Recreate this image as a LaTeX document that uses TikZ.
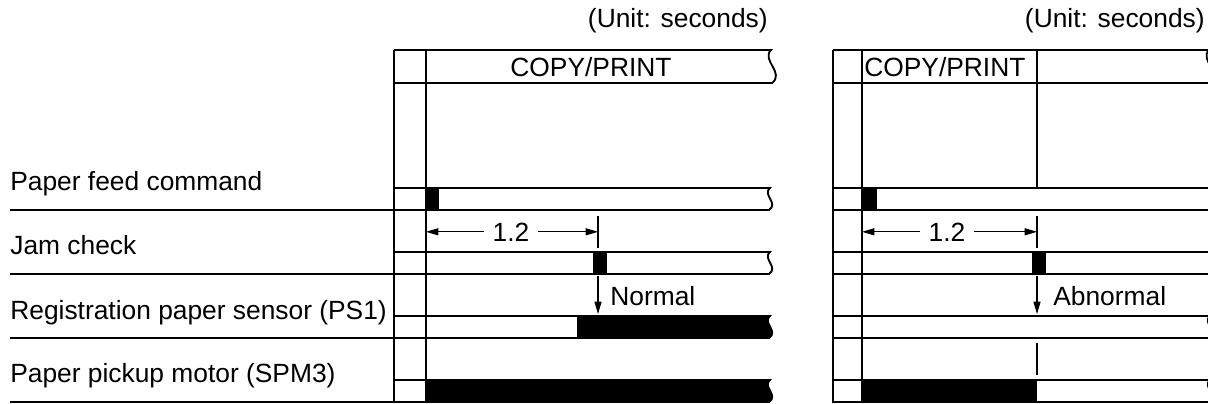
\documentclass[tikz,border=0pt]{standalone}
\usepackage{fontspec}
\setmainfont{Liberation Sans}
\usetikzlibrary{arrows.meta}
\begin{document}
\begin{tikzpicture}[x=0.02cm,y=-0.02cm,
  frame/.style={line width=1.05pt},
  thinln/.style={line width=0.7pt},
  lbl/.style={font=\fontsize{15}{18}\selectfont, inner sep=0pt, anchor=base west},
  txt/.style={font=\fontsize{15}{18}\selectfont, inner sep=0pt, anchor=base},
  dimlbl/.style={font=\fontsize{15}{18}\selectfont, inner xsep=5pt, inner ysep=0pt, anchor=base},
  dim/.style={line width=0.6pt, -{Triangle[length=7pt,width=4pt]}},
  wv/.style={insert path={.. controls +(-8,{0.3*#1}) and +(10,{-0.3*#1}) .. ++(-1,#1)}},
  wvh/.style={insert path={.. controls +(-10,{0.3*#1}) and +(13,{-0.3*#1}) .. ++(1,#1)}},
]
\useasboundingbox (0,0) rectangle (1208,403);
\clip (0,0) rectangle (1208,403);

% ---------- labels ----------
\node[lbl] (pf) at (10,190) {Paper feed command};
\node[lbl] (jc) at (10,254) {Jam check};
\node[lbl] (rs) at (10,319) {Registration paper sensor (PS1)};
\node[lbl] (pm) at (10,382) {Paper pickup motor (SPM3)};

% ---------- left panel ----------
\node[txt, anchor=base east] (u1) at (768,27) {(Unit: seconds)};
\node[txt] (cp1) at (591,76) {COPY/PRINT};

\fill (426,188) rectangle (439,210);
\fill (593,252) rectangle (607,274);
\fill (577,316) -- (770,316) [wv=22] -- (577,338) -- cycle;
\fill (426,380) -- (770,380) [wv=22] -- (426,402) -- cycle;

\draw[frame] (394,50) -- (771,50) [wvh=33] -- (394,83);
\foreach \t in {188,252,316,380}
  \draw[frame] (394,\t) -- (770,\t) [wv=22] -- (10,{\t+22});
\draw[frame] (394,50) -- (394,403);
\draw[thinln] (426,50) -- (426,403);

\coordinate (la) at (426,232);
\coordinate (lb) at (598,232);
\draw[thinln] (598,216) -- (598,248);
\node[dimlbl] (d1) at (511,241) {1.2};
\draw[dim] (d1.west) -- (d1.west -| la);
\draw[dim] (d1.east) -- (d1.east -| lb);

\coordinate (na) at (598,276);
\coordinate (nb) at (598,314);
\draw[dim] (na) -- (nb);
\node[lbl] (nrm) at (610,305) {Normal};

% ---------- right panel ----------
\node[txt, anchor=base east] (u2) at (1205,27) {(Unit: seconds)};
\node[lbl] (cp2) at (864,76) {COPY/PRINT};

\fill (862,188) rectangle (877,210);
\fill (1032,252) rectangle (1046,274);
\fill (862,380) rectangle (1037,402);

\draw[frame] (833,50) -- (1209,50) [wvh=33] -- (833,83);
\foreach \t in {188,252}
  \draw[frame] (833,\t) -- (1212,\t) [wv=22] -- (833,{\t+22});
\foreach \t in {316,380}
  \draw[frame] (833,\t) -- (1210,\t) [wv=22] -- (833,{\t+22});
\draw[frame] (833,50) -- (833,403);
\draw[thinln] (862,50) -- (862,403);
\draw[thinln] (1037,50) -- (1037,188);

\coordinate (ra) at (862,232);
\coordinate (rb) at (1037,232);
\draw[thinln] (1037,216) -- (1037,248);
\node[dimlbl] (d2) at (947,241) {1.2};
\draw[dim] (d2.west) -- (d2.west -| ra);
\draw[dim] (d2.east) -- (d2.east -| rb);

\coordinate (aa) at (1037,276);
\coordinate (ab) at (1037,314);
\draw[dim] (aa) -- (ab);
\node[lbl] (abn) at (1053,305) {Abnormal};
\draw[thinln] (1037,343) -- (1037,375);
\end{tikzpicture}
\end{document}
